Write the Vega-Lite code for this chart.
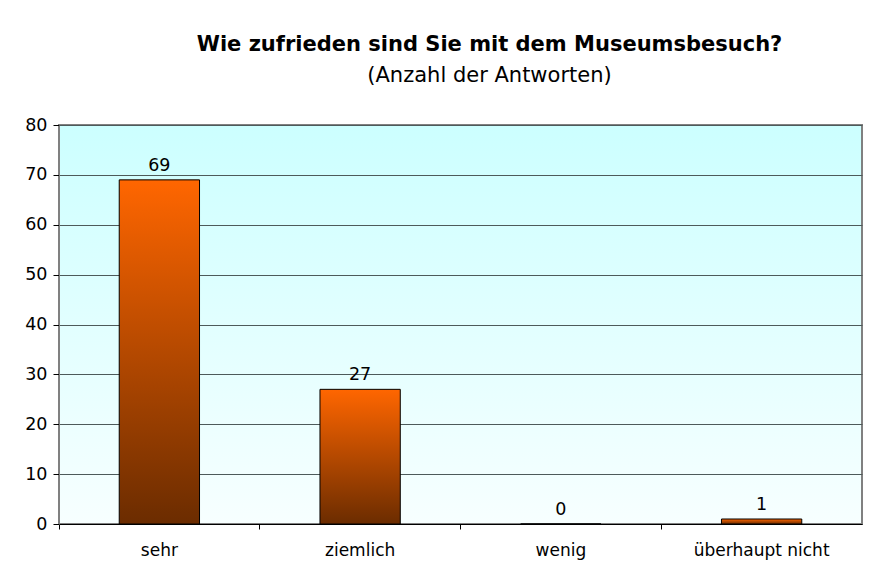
{
  "$schema": "https://vega.github.io/schema/vega-lite/v6.json",
  "autosize": {"type": "none"},
  "width": 803,
  "height": 399,
  "padding": {"left": 59, "top": 125, "right": 8, "bottom": 50},
  "background": "white",
  "title": {
    "text": "Wie zufrieden sind Sie mit dem Museumsbesuch?",
    "subtitle": "(Anzahl der Antworten)",
    "anchor": "middle",
    "dx": 29,
    "offset": 30,
    "font": "DejaVu Sans",
    "fontSize": 21,
    "fontWeight": "bold",
    "color": "black",
    "subtitleFont": "DejaVu Sans",
    "subtitleFontSize": 21,
    "subtitleColor": "black",
    "subtitlePadding": 10
  },
  "data": {
    "values": [
      {"Antwort": "sehr", "Anzahl": 69},
      {"Antwort": "ziemlich", "Anzahl": 27},
      {"Antwort": "wenig", "Anzahl": 0},
      {"Antwort": "überhaupt nicht", "Anzahl": 1}
    ]
  },
  "encoding": {
    "x": {
      "field": "Antwort",
      "type": "nominal",
      "sort": null,
      "scale": {"paddingInner": 0, "paddingOuter": 0},
      "axis": {
        "title": null,
        "labelAngle": 0,
        "labelFont": "DejaVu Sans",
        "labelFontSize": 17,
        "labelColor": "black",
        "labelPadding": 13,
        "domainColor": "black",
        "tickColor": "black",
        "tickSize": 5,
        "bandPosition": 0,
        "grid": false
      }
    },
    "y": {
      "field": "Anzahl",
      "type": "quantitative",
      "scale": {"domain": [0, 80], "nice": false},
      "axis": {
        "title": null,
        "values": [0, 10, 20, 30, 40, 50, 60, 70, 80],
        "labelFont": "DejaVu Sans",
        "labelFontSize": 17.5,
        "labelColor": "black",
        "labelPadding": 6,
        "domainColor": "#808080",
        "tickColor": "black",
        "tickSize": 6,
        "gridColor": "#4d5a5a",
        "gridOpacity": 1,
        "gridWidth": 1
      }
    }
  },
  "layer": [
    {
      "mark": {
        "type": "bar",
        "width": {"band": 0.4},
        "stroke": "black",
        "strokeWidth": 1,
        "color": {
          "gradient": "linear",
          "x1": 0, "y1": 0, "x2": 0, "y2": 1,
          "stops": [
            {"offset": 0, "color": "#ff6600"},
            {"offset": 1, "color": "#6b2c00"}
          ]
        }
      }
    },
    {
      "mark": {
        "type": "text",
        "baseline": "alphabetic",
        "dy": -9,
        "font": "DejaVu Sans",
        "fontSize": 17.5,
        "color": "black"
      },
      "encoding": {"text": {"field": "Anzahl", "type": "quantitative"}}
    }
  ],
  "config": {
    "view": {
      "stroke": "#808080",
      "strokeWidth": 2,
      "fill": {
        "gradient": "linear",
        "x1": 0, "y1": 0, "x2": 0, "y2": 1,
        "stops": [
          {"offset": 0, "color": "#ccffff"},
          {"offset": 1, "color": "#f7ffff"}
        ]
      }
    }
  }
}
